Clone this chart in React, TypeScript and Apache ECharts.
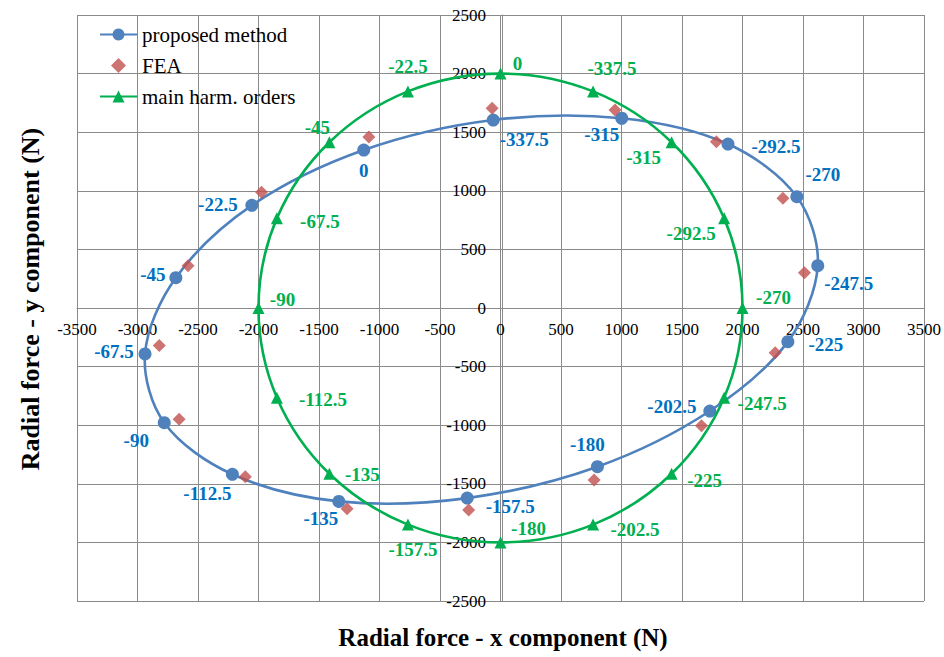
import React, { useEffect, useRef } from "react";
import * as echarts from "echarts";

// Rotor angle of each sample (degrees), used as the point labels
const angleLabels = [
  "0", "-22.5", "-45", "-67.5", "-90", "-112.5", "-135", "-157.5",
  "-180", "-202.5", "-225", "-247.5", "-270", "-292.5", "-315", "-337.5",
];

// Radial force components (N) – proposed method
const proposedX = [-1130, -2055, -2683, -2938, -2779, -2216, -1336, -275, 801, 1730, 2375, 2622, 2449, 1880, 1002, -60];
const proposedY = [1348, 876, 259, -392, -979, -1419, -1650, -1622, -1354, -879, -287, 361, 950, 1399, 1619, 1604];

// Radial force components (N) – FEA
const feaX = [-1088, -1975, -2582, -2820, -2656, -2109, -1268, -263, 774, 1661, 2270, 2512, 2334, 1784, 947, -69];
const feaY = [1458, 987, 361, -321, -950, -1439, -1712, -1724, -1468, -1004, -381, 301, 936, 1419, 1689, 1704];

// Radial force components (N) – main harmonic orders only
const harmX = [0, -765, -1414, -1848, -2000, -1848, -1414, -765, 0, 765, 1414, 1848, 2000, 1848, 1414, 765];
const harmY = [2000, 1848, 1414, 765, 0, -765, -1414, -1848, -2000, -1848, -1414, -765, 0, 765, 1414, 1848];

// Axis ranges and step
const xRange = [-3500, 3500];
const yRange = [-2500, 2500];
const tickStep = 500;

// Label placement (pixel offsets from each marker)
const proposedLabelOffsets = [
  [0, 20], [-34, -1], [-23, -3], [-31, -2], [-28, 18], [-25, 19], [-18, 17], [43, 8],
  [-10, -22], [-38, -5], [38, 3], [31, 18], [26, -22], [48, 2], [-20, 16], [31, 19],
];
const harmLabelOffsets = [
  [17, -10], [0, -25], [-12, -15], [43, 3], [24, -9], [46, 2], [33, 1], [5, 25],
  [28, -14], [42, 5], [33, 7], [38, 6], [31, -11], [-33, 15], [-28, 15], [19, -23],
];

const SERIF = '"Liberation Serif", "Times New Roman", serif';
const BLUE = "#4F81BD";
const BLUE_TEXT = "#0070C0";
const RED = "#C0504D";
const GREEN = "#00B050";
const GRID = "#8a8a8a";

// Plot rectangle
const PLOT = { left: 77, top: 15, width: 850, height: 586 };

function pairs(xs: number[], ys: number[]) {
  return xs.map((x, i) => [x, ys[i]]);
}

// Closed smooth loop through the points, drawn as one polygon
function loopSeries(xs: number[], ys: number[], color: string, z: number) {
  return {
    type: "custom",
    coordinateSystem: "cartesian2d",
    data: pairs(xs, ys),
    encode: { x: 0, y: 1 },
    silent: true,
    clip: false,
    z,
    renderItem: (params: any, api: any) => {
      if (params.dataIndex !== 0) return null;
      const pts = xs.map((x, i) => api.coord([x, ys[i]]));
      return {
        type: "polygon",
        shape: { points: pts, smooth: 0.33 },
        style: { fill: "none", stroke: color, lineWidth: 2.6 },
      };
    },
  };
}

function markerSeries(
  name: string,
  xs: number[],
  ys: number[],
  offsets: number[][],
  symbol: string,
  size: number,
  color: string,
  textColor: string,
  z: number
) {
  return {
    name,
    type: "line",
    data: xs.map((x, i) => ({ value: [x, ys[i]], label: { offset: offsets[i] } })),
    symbol,
    symbolSize: size,
    showSymbol: true,
    showAllSymbol: true,
    clip: false,
    silent: true,
    z,
    lineStyle: { color, width: 2.6, opacity: 0 },
    itemStyle: { color },
    label: {
      show: true,
      position: "inside",
      formatter: (p: any) => angleLabels[p.dataIndex],
      fontFamily: SERIF,
      fontSize: 19,
      fontWeight: "bold",
      color: textColor,
    },
  };
}

export default function App() {
  const ref = useRef<HTMLDivElement>(null);

  useEffect(() => {
    document.body.style.margin = "0";
    const chart = echarts.init(ref.current!, null, { renderer: "svg" });

    const axisLabel = {
      fontFamily: SERIF,
      fontSize: 17,
      color: "#000",
      formatter: (v: number) => String(v),
    };

    // Both axes cross at the origin, with their labels beside the crossing lines
    const xAxisShift = -PLOT.height * (0 - yRange[0]) / (yRange[1] - yRange[0]);
    const yAxisShift = -PLOT.width * (0 - xRange[0]) / (xRange[1] - xRange[0]);

    chart.setOption({
      animation: false,
      backgroundColor: "#fff",
      grid: { ...PLOT, containLabel: false },
      xAxis: {
        type: "value",
        position: "bottom",
        offset: xAxisShift,
        min: xRange[0],
        max: xRange[1],
        interval: tickStep,
        axisLine: { show: true, onZero: false, lineStyle: { color: GRID, width: 1 } },
        axisTick: { show: false },
        splitLine: { show: true, lineStyle: { color: GRID, width: 1 } },
        axisLabel: { ...axisLabel, margin: 13 },
      },
      yAxis: {
        type: "value",
        position: "left",
        offset: yAxisShift,
        min: yRange[0],
        max: yRange[1],
        interval: tickStep,
        axisLine: { show: true, onZero: false, lineStyle: { color: GRID, width: 1 } },
        axisTick: { show: false },
        splitLine: { show: true, lineStyle: { color: GRID, width: 1 } },
        axisLabel: { ...axisLabel, margin: 16 },
      },
      legend: {
        orient: "vertical",
        left: 99,
        top: 24,
        padding: 0,
        itemWidth: 37,
        itemHeight: 15,
        itemGap: 10,
        selectedMode: false,
        textStyle: { fontFamily: SERIF, fontSize: 21, color: "#000", lineHeight: 21 },
        data: [
          { name: "proposed method", lineStyle: { opacity: 1 } },
          { name: "FEA", icon: "path://M5 0L10 5L5 10L0 5Z" },
          { name: "main harm. orders", lineStyle: { opacity: 1 } },
        ],
      },
      graphic: [
        {
          type: "text",
          x: 503,
          y: 637,
          style: {
            text: "Radial force - x component (N)",
            font: `bold 25px ${SERIF}`,
            fill: "#000",
            align: "center",
            verticalAlign: "middle",
          },
        },
        {
          type: "text",
          x: 30,
          y: 299,
          rotation: Math.PI / 2,
          style: {
            text: "Radial force - y component (N)",
            font: `bold 26px ${SERIF}`,
            fill: "#000",
            align: "center",
            verticalAlign: "middle",
          },
        },
      ],
      series: [
        loopSeries(proposedX, proposedY, BLUE, 2),
        markerSeries("proposed method", proposedX, proposedY, proposedLabelOffsets, "circle", 13, BLUE, BLUE_TEXT, 3),
        {
          name: "FEA",
          type: "scatter",
          data: pairs(feaX, feaY),
          symbol: "diamond",
          symbolSize: 13,
          itemStyle: { color: RED },
          silent: true,
          z: 4,
        },
        loopSeries(harmX, harmY, GREEN, 5),
        markerSeries("main harm. orders", harmX, harmY, harmLabelOffsets, "triangle", 12, GREEN, GREEN, 6),
      ],
    });

    return () => chart.dispose();
  }, []);

  return <div ref={ref} style={{ width: 944, height: 657 }} />;
}
